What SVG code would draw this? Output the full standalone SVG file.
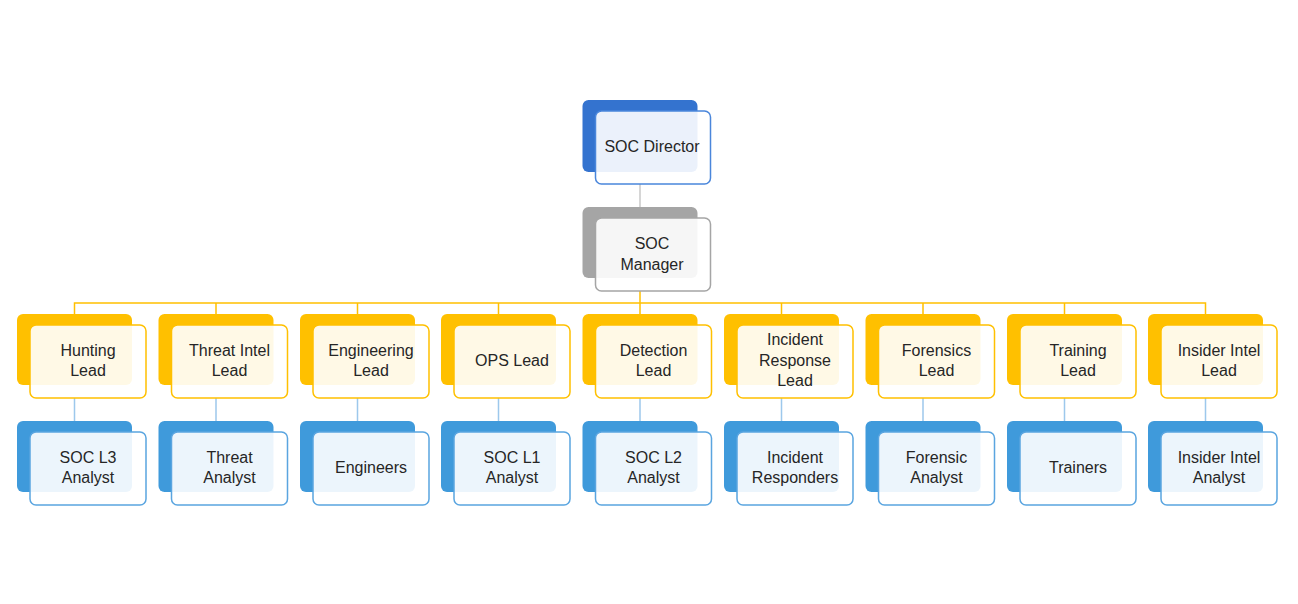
<svg xmlns="http://www.w3.org/2000/svg" width="1298" height="604" viewBox="0 0 1298 604">
<style>
.t{font-family:"Liberation Sans",Arial,sans-serif;font-size:16px;fill:#262626;text-anchor:middle}
.bk{stroke:none}
.fr{fill:#fff;fill-opacity:0.9;stroke-width:1.5}
.dir .bk{fill:#3473CF}.dir .fr{stroke:#4A86DB}
.mgr .bk{fill:#A5A5A5}.mgr .fr{stroke:#A5A5A5}
.lead .bk{fill:#FFC000}.lead .fr{stroke:#FFC000}
.an .bk{fill:#3F9ADB}.an .fr{stroke:#5AA5E0}
.c{fill:none;stroke-width:1.5}
</style>
<rect width="1298" height="604" fill="#fff"/>
<g id="connectors">
<line class="c" x1="640" y1="184" x2="640" y2="207" stroke="#C8C8C8"/>
<path class="c" d="M640 291V303M74.5 314V303H1205.5V314M216 303V314M357.5 303V314M498.5 303V314M640 303V314M781.5 303V314M923 303V314M1064.5 303V314" stroke="#FFC000"/>
<path class="c" d="M74.5 398V421M216 398V421M357.5 398V421M498.5 398V421M640 398V421M781.5 398V421M923 398V421M1064.5 398V421M1205.5 398V421" stroke="#9DC8EC"/>
</g>
<g id="soc-director" class="dir"><rect class="bk" x="582.5" y="100" width="115" height="72" rx="6"/><rect class="fr" x="595.5" y="111" width="115" height="73" rx="6"/><text class="t" x="652" y="152">SOC Director</text></g>
<g id="soc-manager" class="mgr"><rect class="bk" x="582.5" y="207" width="115" height="71" rx="6"/><rect class="fr" x="595.5" y="218" width="115" height="73" rx="6"/><text class="t" x="652" y="249">SOC</text><text class="t" x="652" y="270">Manager</text></g>

<g id="hunting-lead" class="lead"><rect class="bk" x="17" y="314" width="115" height="71" rx="6"/><rect class="fr" x="30" y="325" width="116" height="73" rx="6"/><text class="t" x="88" y="356">Hunting</text><text class="t" x="88" y="376">Lead</text></g>
<g id="threat-intel-lead" class="lead"><rect class="bk" x="158.5" y="314" width="115" height="71" rx="6"/><rect class="fr" x="171.5" y="325" width="116" height="73" rx="6"/><text class="t" x="229.5" y="356">Threat Intel</text><text class="t" x="229.5" y="376">Lead</text></g>
<g id="engineering-lead" class="lead"><rect class="bk" x="300" y="314" width="115" height="71" rx="6"/><rect class="fr" x="313" y="325" width="116" height="73" rx="6"/><text class="t" x="371" y="356">Engineering</text><text class="t" x="371" y="376">Lead</text></g>
<g id="ops-lead" class="lead"><rect class="bk" x="441" y="314" width="115" height="71" rx="6"/><rect class="fr" x="454" y="325" width="116" height="73" rx="6"/><text class="t" x="512" y="366">OPS Lead</text></g>
<g id="detection-lead" class="lead"><rect class="bk" x="582.5" y="314" width="115" height="71" rx="6"/><rect class="fr" x="595.5" y="325" width="116" height="73" rx="6"/><text class="t" x="653.5" y="356">Detection</text><text class="t" x="653.5" y="376">Lead</text></g>
<g id="incident-response-lead" class="lead"><rect class="bk" x="724" y="314" width="115" height="71" rx="6"/><rect class="fr" x="737" y="325" width="116" height="73" rx="6"/><text class="t" x="795" y="345">Incident</text><text class="t" x="795" y="366">Response</text><text class="t" x="795" y="386">Lead</text></g>
<g id="forensics-lead" class="lead"><rect class="bk" x="865.5" y="314" width="115" height="71" rx="6"/><rect class="fr" x="878.5" y="325" width="116" height="73" rx="6"/><text class="t" x="936.5" y="356">Forensics</text><text class="t" x="936.5" y="376">Lead</text></g>
<g id="training-lead" class="lead"><rect class="bk" x="1007" y="314" width="115" height="71" rx="6"/><rect class="fr" x="1020" y="325" width="116" height="73" rx="6"/><text class="t" x="1078" y="356">Training</text><text class="t" x="1078" y="376">Lead</text></g>
<g id="insider-intel-lead" class="lead"><rect class="bk" x="1148" y="314" width="115" height="71" rx="6"/><rect class="fr" x="1161" y="325" width="116" height="73" rx="6"/><text class="t" x="1219" y="356">Insider Intel</text><text class="t" x="1219" y="376">Lead</text></g>

<g id="soc-l3-analyst" class="an"><rect class="bk" x="17" y="421" width="115" height="71" rx="6"/><rect class="fr" x="30" y="432" width="116" height="73" rx="6"/><text class="t" x="88" y="463">SOC L3</text><text class="t" x="88" y="483">Analyst</text></g>
<g id="threat-analyst" class="an"><rect class="bk" x="158.5" y="421" width="115" height="71" rx="6"/><rect class="fr" x="171.5" y="432" width="116" height="73" rx="6"/><text class="t" x="229.5" y="463">Threat</text><text class="t" x="229.5" y="483">Analyst</text></g>
<g id="engineers" class="an"><rect class="bk" x="300" y="421" width="115" height="71" rx="6"/><rect class="fr" x="313" y="432" width="116" height="73" rx="6"/><text class="t" x="371" y="473">Engineers</text></g>
<g id="soc-l1-analyst" class="an"><rect class="bk" x="441" y="421" width="115" height="71" rx="6"/><rect class="fr" x="454" y="432" width="116" height="73" rx="6"/><text class="t" x="512" y="463">SOC L1</text><text class="t" x="512" y="483">Analyst</text></g>
<g id="soc-l2-analyst" class="an"><rect class="bk" x="582.5" y="421" width="115" height="71" rx="6"/><rect class="fr" x="595.5" y="432" width="116" height="73" rx="6"/><text class="t" x="653.5" y="463">SOC L2</text><text class="t" x="653.5" y="483">Analyst</text></g>
<g id="incident-responders" class="an"><rect class="bk" x="724" y="421" width="115" height="71" rx="6"/><rect class="fr" x="737" y="432" width="116" height="73" rx="6"/><text class="t" x="795" y="463">Incident</text><text class="t" x="795" y="483">Responders</text></g>
<g id="forensic-analyst" class="an"><rect class="bk" x="865.5" y="421" width="115" height="71" rx="6"/><rect class="fr" x="878.5" y="432" width="116" height="73" rx="6"/><text class="t" x="936.5" y="463">Forensic</text><text class="t" x="936.5" y="483">Analyst</text></g>
<g id="trainers" class="an"><rect class="bk" x="1007" y="421" width="115" height="71" rx="6"/><rect class="fr" x="1020" y="432" width="116" height="73" rx="6"/><text class="t" x="1078" y="473">Trainers</text></g>
<g id="insider-intel-analyst" class="an"><rect class="bk" x="1148" y="421" width="115" height="71" rx="6"/><rect class="fr" x="1161" y="432" width="116" height="73" rx="6"/><text class="t" x="1219" y="463">Insider Intel</text><text class="t" x="1219" y="483">Analyst</text></g>
</svg>
